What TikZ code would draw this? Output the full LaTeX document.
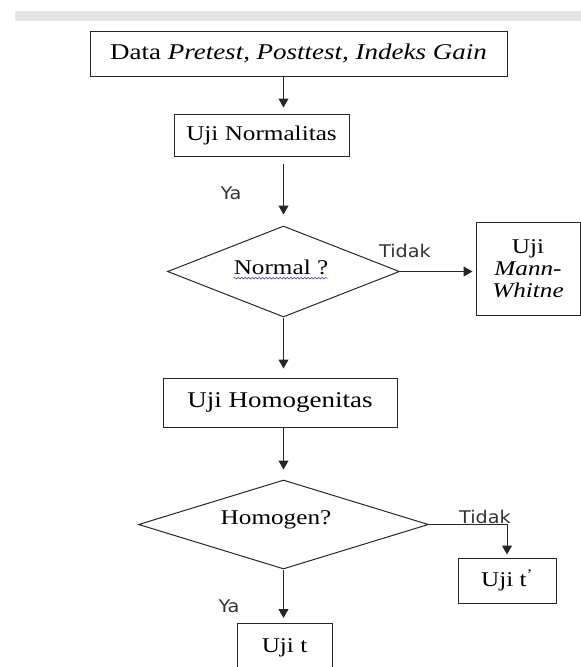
\documentclass[tikz,border=0pt]{standalone}
\usepackage{fontspec}
\setmainfont{Liberation Serif}[FakeStretch=1.2]
\newfontfamily\labelfont{DejaVu Sans}[FakeStretch=1.1]
\usetikzlibrary{shapes.geometric,arrows.meta,decorations.pathmorphing}
\begin{document}
\begin{tikzpicture}[x=1pt,y=-1pt,
  box/.style={draw=black!85, line width=1pt, inner sep=0pt, font=\fontsize{21}{24}\selectfont},
  bigtext/.style={font=\fontsize{22.5}{26}\selectfont},
  dia/.style={draw=black!85, line width=1pt, diamond, inner sep=0pt},
  txt/.style={inner sep=0pt, font=\fontsize{21}{24}\selectfont},
  lab/.style={inner sep=0pt, font=\labelfont\fontsize{17.5}{20}\selectfont, text=black!80},
  arr/.style={draw=black!85, line width=1pt, -{Triangle[length=9pt,width=10pt]}}]
\useasboundingbox (0,0) rectangle (581,667);
\fill[black!10] (15,11) rectangle (581,21);

% boxes
\node[box, bigtext, minimum width=417, minimum height=45] (b1) at (298.5,53.5) {Data \textit{Pretest, Posttest, Indeks Gain}};
\node[box, minimum width=175, minimum height=42] (b2) at (261.5,135) {Uji Normalitas};
\node[box, minimum width=104, minimum height=93, align=center] (mw) at (528,268.5) {Uji\\[-2pt] \textit{Mann-}\\[-2pt] \textit{Whitne}};
\node[box, bigtext, minimum width=234, minimum height=49] (b3) at (280,402.5) {Uji Homogenitas};
\node[box, minimum width=98, minimum height=45] (ut2) at (507,580.5) {Uji t\textsuperscript{’}};
\node[box, minimum width=95, anchor=north, inner ysep=14pt, text height=15pt, text depth=40pt] (ut1) at (284.5,623) {Uji t};

% diamonds
\node[dia, minimum width=232, minimum height=91] (d1) at (283.5,271.5) {};
\node[dia, minimum width=290, minimum height=89] (d2) at (283.5,524.5) {};
\node[txt] (t1) at (281,267) {Normal ?};
\node[txt] (t2) at (276,520) {Homogen?};
\draw[blue!75, line width=0.6pt, decorate, decoration={snake, amplitude=0.8pt, segment length=3.5pt}]
  ([yshift=-4pt]t1.base west) -- ([yshift=-4pt]t1.base east);

% labels
\node[lab] (ya1) at (231,193) {Ya};
\node[lab] (td1) at (405,251) {Tidak};
\node[lab] (td2) at (485,517) {Tidak};
\node[lab] (ya2) at (229,606) {Ya};

% connectors
\draw[arr, shorten >=6pt] (b1.south -| d1.north) -- (b2.north -| d1.north);
\draw[arr, shorten <=7pt, shorten >=11pt] (b2.south -| d1.north) -- (d1.north);
\draw[arr, shorten >=3pt] (d1.east) -- (d1.east -| mw.west);
\draw[arr, shorten >=9pt] (d1.south) -- (b3.north -| d1.south);
\draw[arr, shorten >=10pt] (b3.south -| d2.north) -- (d2.north);
\draw[arr, shorten >=3pt] (d2.east) -| (ut2.north);
\draw[arr, shorten >=5pt] (d2.south) -- (ut1.north -| d2.south);
\end{tikzpicture}
\end{document}
